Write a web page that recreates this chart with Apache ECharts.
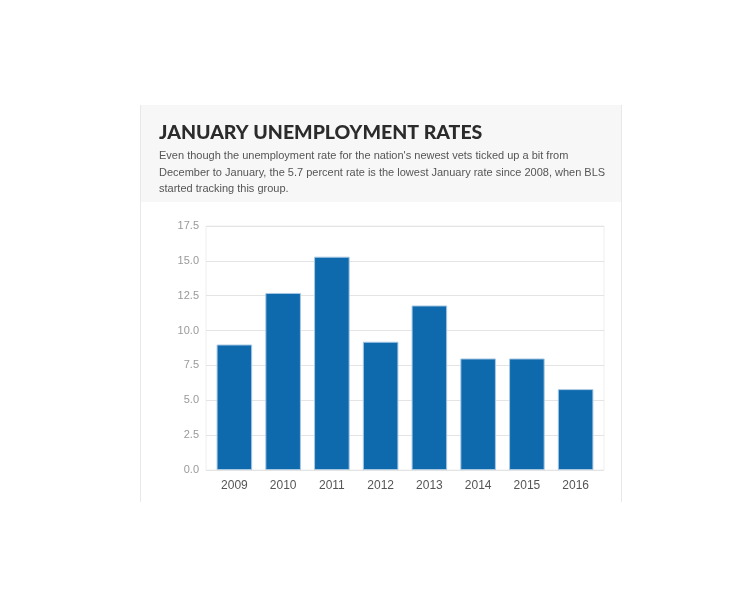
<!DOCTYPE html>
<html>
<head>
<meta charset="utf-8">
<script src="https://cdn.jsdelivr.net/npm/echarts@6/dist/echarts.min.js"></script>
<style>
  html, body { margin: 0; padding: 0; background: #fff; }
  #main { width: 750px; height: 600px; }
</style>
</head>
<body>
<div id="main"></div>
<script>
var years = ['2009', '2010', '2011', '2012', '2013', '2014', '2015', '2016'];
var rates = [9.0, 12.7, 15.3, 9.2, 11.8, 8.0, 8.0, 5.8];
var titleText = 'JANUARY UNEMPLOYMENT RATES';
var subText = "Even though the unemployment rate for the nation's newest vets ticked up a bit from\n" +
  'December to January, the 5.7 percent rate is the lowest January rate since 2008, when BLS\n' +
  'started tracking this group.';

var labelFont = 'Liberation Sans, Arial, sans-serif';

var chart = echarts.init(document.getElementById('main'));

chart.setOption({
  animation: false,
  backgroundColor: '#fff',
  graphic: [
    // card header background
    { type: 'rect', shape: { x: 141, y: 105, width: 481, height: 97 }, style: { fill: '#f7f7f7' }, z: -10 },
    // card side borders
    { type: 'line', shape: { x1: 140.5, y1: 105, x2: 140.5, y2: 502 }, style: { stroke: '#e8e8e8', lineWidth: 1 }, z: -9 },
    { type: 'line', shape: { x1: 621.5, y1: 105, x2: 621.5, y2: 502 }, style: { stroke: '#e8e8e8', lineWidth: 1 }, z: -9 }
  ],
  title: {
    text: titleText,
    subtext: subText,
    left: 154,
    top: 118,
    itemGap: 5,
    textStyle: {
      fontFamily: 'Lato',
      fontWeight: 900,
      fontSize: 19.5,
      color: '#2b2b2b'
    },
    subtextStyle: {
      fontFamily: labelFont,
      fontSize: 11,
      lineHeight: 16.5,
      color: '#555'
    }
  },
  grid: [
    // plot frame and gridlines
    { left: 206, right: 146, top: 226, bottom: 130, show: true, borderColor: '#eeeeee', borderWidth: 1 },
    // bars, inset a little from the frame
    { left: 210, right: 150, top: 226, bottom: 130 }
  ],
  xAxis: [
    { gridIndex: 0, type: 'category', data: years, show: false },
    {
      gridIndex: 1,
      type: 'category',
      data: years,
      axisLine: { show: false },
      axisTick: { show: false },
      axisLabel: { color: '#555', fontFamily: labelFont, fontSize: 12, margin: 10 }
    }
  ],
  yAxis: [
    {
      gridIndex: 0,
      type: 'value',
      min: 0,
      max: 17.5,
      interval: 2.5,
      axisLine: { show: false },
      axisTick: { show: false },
      axisLabel: {
        color: '#999',
        fontFamily: labelFont,
        fontSize: 11,
        margin: 7,
        padding: [4, 0, 0, 0],
        formatter: function (v) { return v.toFixed(1); }
      },
      splitLine: { lineStyle: { color: '#e4e4e4' } }
    },
    { gridIndex: 1, type: 'value', min: 0, max: 17.5, interval: 2.5, show: false, splitLine: { show: false } }
  ],
  series: [{
    type: 'bar',
    xAxisIndex: 1,
    yAxisIndex: 1,
    data: rates,
    barWidth: '73%',
    itemStyle: {
      color: '#0e69ad',
      borderColor: '#a7c8e3',
      borderWidth: 1
    }
  }]
});
</script>
</body>
</html>
